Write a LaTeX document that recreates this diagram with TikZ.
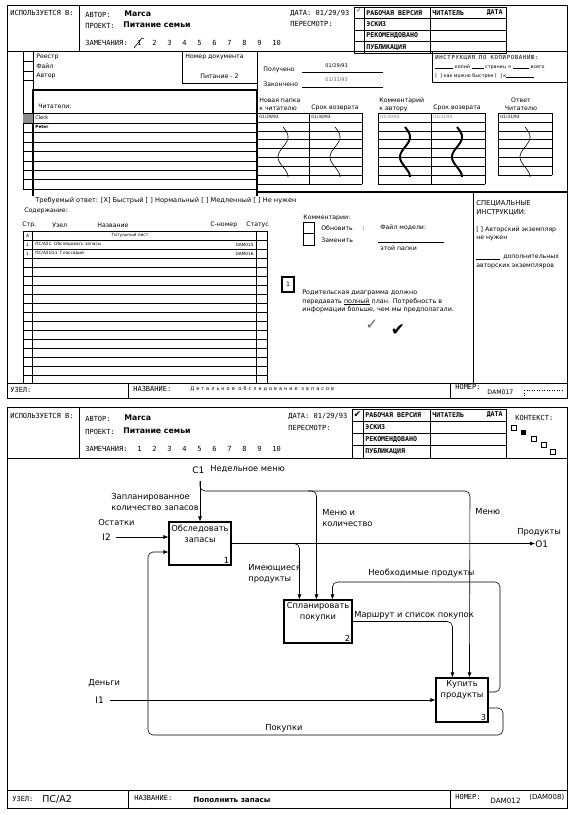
\documentclass[tikz,border=0pt]{standalone}
\usepackage{fontspec}
\setmainfont{DejaVu Sans}
\newfontfamily\monof{DejaVu Sans Mono}
\usetikzlibrary{arrows.meta,calc}
\tikzset{
 lab/.style={font=\monof\fontsize{7}{8}\selectfont, inner sep=0pt, anchor=west},
 labb/.style={font=\monof\bfseries\fontsize{6.6}{8}\selectfont, inner sep=0pt, anchor=west},
 hv/.style={font=\bfseries\fontsize{7.8}{9}\selectfont, inner sep=0pt, anchor=west},
 sm/.style={font=\fontsize{6.2}{8}\selectfont, inner sep=0pt, anchor=west, align=left},
 tn/.style={font=\fontsize{4.3}{5}\selectfont, inner sep=0pt, anchor=west},
 dl/.style={font=\fontsize{8.3}{11}\selectfont, inner sep=0pt, anchor=west, align=left},
 btxt/.style={font=\fontsize{8.3}{11}\selectfont, inner sep=0pt, anchor=north, align=center},
 fbox/.style={draw, line width=1.1pt, minimum height=43pt, inner sep=0pt},
 arr/.style={-{Latex[length=5pt,width=4pt]}, line width=0.6pt, rounded corners=5pt},
 fr/.style={line width=0.8pt},
 thk/.style={line width=1.6pt},
 thn/.style={line width=0.5pt},
}
\newcommand\squig[2]{\draw[#2] plot[domain=0:50,samples=60,smooth] ({#1+5*sin(\x*9)},{127+\x});}
\begin{document}
\begin{tikzpicture}[x=1pt,y=-1pt,line width=0.7pt]
\useasboundingbox[fill=white] (0,0) rectangle (579,815);

% ================= PAGE 1 =================
\draw[fr] (7.5,5) rectangle (567,398);
\draw[fr] (7.5,51) -- (567,51);
\draw[fr] (79,5) -- (79,51);
\node[lab] (p1use) at (10,13) {ИСПОЛЬЗУЕТСЯ В:};
\node[lab] (p1aut) at (85,15) {АВТОР:};
\node[hv] (p1autv) at (124,14) {Marca};
\node[lab] (p1prj) at (85,26) {ПРОЕКТ:};
\node[hv] (p1prjv) at (123,25) {Питание семьи};
\node[lab] (p1rem) at (85,43) {ЗАМЕЧАНИЯ:};
\foreach \i [count=\k from 0] in {1,...,10} \node[lab] (p1n\i) at (137+15*\k,43) {\i};
\draw[line width=0.6pt] (134,48) -- (142,38) -- (144,39);
\node[lab] (p1date) at (290,13) {ДАТА: 01/29/93};
\node[lab] (p1rev) at (290,24) {ПЕРЕСМОТР:};
% status box
\draw[line width=1pt] (354,7) rectangle (506,53);
\draw[line width=1pt] (364,7) -- (364,53) (430,7) -- (430,53);
\foreach \yy in {18.5,30,41.5} \draw[line width=1pt] (354,\yy) -- (506,\yy);
\node[labb] (p1s1) at (366,12.75) {РАБОЧАЯ ВЕРСИЯ};
\node[labb] (p1s2) at (366,24.25) {ЭСКИЗ};
\node[labb] (p1s3) at (366,35.75) {РЕКОМЕНДОВАНО};
\node[labb] (p1s4) at (366,47.25) {ПУБЛИКАЦИЯ};
\node[labb] (p1s5) at (432,12.75) {ЧИТАТЕЛЬ};
\node[labb, anchor=east] (p1s6) at (503,12.75) {ДАТА};
\node[font=\fontsize{6}{6}\selectfont, inner sep=0pt] (p1chk) at (359,11) {✓};

% left checkboxes
\draw[fr] (23,51) -- (23,189);
\draw[fr] (33,51) -- (33,90);
\foreach \yy in {61,71,80} \draw[fr] (23,\yy) -- (33,\yy);
\node[sm] (p1reg) at (36,57) {Реестр};
\node[sm] (p1fil) at (36,66) {Файл};
\node[sm] (p1avt) at (36,76) {Автор};
% document number box
\draw[fr] (182,51) -- (182,83) -- (257,83);
\draw[fr] (257,51) -- (257,90);
\node[sm] (p1docn) at (185,57) {Номер документа};
\node[sm] (p1docv) at (200,76) {Питание - 2};
% received / finished
\node[sm] (p1rcv) at (263,70) {Получено};
\node[sm] (p1fin) at (263,84) {Закончено};
\node[tn, font=\fontsize{5}{6}\selectfont] (p1d1) at (325,66) {01/29/93};
\node[tn, font=\fontsize{5}{6}\selectfont, text=black!60] (p1d2) at (325,80) {01/31/93};
\draw[thn] (302,72) -- (383,72);
\draw[thn] (302,87) -- (383,87);
% copy instructions
\draw[fr] (432,51) -- (432,82) -- (567,82);
\node[font=\monof\fontsize{5.6}{6}\selectfont, inner sep=0pt, anchor=west] (p1ci1) at (435,58) {\addfontfeature{LetterSpace=12}ИНСТРУКЦИЯ ПО КОПИРОВАНИЮ:};
\node[tn, font=\fontsize{4.8}{6}\selectfont] (p1ci2) at (435,67) {\rule{18pt}{0.3pt} копий \rule{12pt}{0.3pt} страниц = \rule{16pt}{0.3pt} всего};
\node[tn, font=\fontsize{4.8}{6}\selectfont] (p1ci3) at (435,76) {[\ \ ] как можно быстрее [\ \ ] к\rule{28pt}{0.3pt}};

% readers box
\draw[thk] (33,196) -- (33,90) -- (257,90) -- (257,196);
\node[sm] (p1rd) at (38,106) {Читатели:};
\fill[black!45] (23,113) rectangle (33,123);
\foreach \yy in {113,123,132,142,151,161,170,179,189} \draw[fr] (23,\yy) -- (257,\yy);
\node[tn, font=\fontsize{5}{6}\selectfont] (p1clerk) at (35,118) {Clerk};
\node[tn, font=\bfseries\fontsize{4.3}{5}\selectfont] (p1peter) at (35,126.5) {Peter};

% right tables
\node[sm] (p1t1h) at (259,104.5) {Новая папка\\к читателю};
\node[sm] (p1t1r) at (311,108) {Срок возврата};
\node[sm] (p1t2h) at (379,104.5) {Комментарий\\к автору};
\node[sm] (p1t2r) at (433,108) {Срок возврата};
\node[sm, align=center, anchor=center] (p1t3h) at (521,104.5) {Ответ\\Читателю};
\foreach \k in {0,...,8} \draw[thn] (257,113+8.9*\k) -- (362,113+8.9*\k);
\foreach \k in {0,...,8} \draw[thn] (378,113+8.9*\k) -- (485,113+8.9*\k);
\foreach \k in {0,...,7} \draw[thn] (498,113+8.9*\k) -- (552,113+8.9*\k);
\draw[thn] (309,113) -- (309,184.2) (362,113) -- (362,184.2);
\draw[thn] (378,113) -- (378,184.2) (431,113) -- (431,184.2) (485,113) -- (485,184.2);
\draw[thn] (498,113) -- (498,175.3) (552,113) -- (552,175.3);
\node[tn] (p1dd1) at (259,117.5) {01/29/93};
\node[tn] (p1dd2) at (311,117.5) {01/30/93};
\node[tn, text=black!50] (p1dd3) at (380,117.5) {01/30/93};
\node[tn, text=black!50] (p1dd4) at (433,117.5) {01/31/93};
\node[tn] (p1dd5) at (500,117.5) {01/31/93};
\squig{283}{line width=0.6pt}
\squig{335}{line width=0.6pt}
\squig{405}{line width=2pt}
\squig{457}{line width=2pt}
\squig{525}{line width=0.6pt}
\draw[thk] (257,192) -- (567,192);
\draw[fr] (473,192) -- (473,383);

% required answer
\node[sm, font=\fontsize{6.6}{8}\selectfont] (p1req) at (35,201) {Требуемый ответ: [X] Быстрый [ ] Нормальный [ ] Медленный [ ] Не нужен};
% contents
\node[sm] (p1cnt) at (24,211) {Содержание:};
\node[sm] (p1c1) at (22,225) {Стр.};
\node[sm] (p1c2) at (52,225) {Узел};
\node[sm] (p1c3) at (97,225) {Название};
\node[sm] (p1c4) at (210,225) {С-номер};
\node[sm] (p1c5) at (246,225) {Статус};
\draw[fr] (23,231) rectangle (267,383);
\draw[fr] (32,231) -- (32,383) (256,231) -- (256,383);
\foreach \k in {1,...,16} \draw[fr] (23,231+9*\k) -- (267,231+9*\k);
\node[tn, anchor=center] (p1r0) at (130,235.5) {Титульный лист};
\node[tn] (p1r1) at (35,244.5) {ПС/А21\ \ Обследовать запасы};
\node[tn, anchor=east] (p1r1b) at (254,244.5) {DAM015};
\node[tn] (p1r2) at (35,253.5) {ПС/А21G1\ \ Глоссарий};
\node[tn, anchor=east] (p1r2b) at (254,253.5) {DAM016};
\node[tn, anchor=center] (p1l0) at (27.5,235.5) {A};
\node[tn, anchor=center] (p1l1) at (27.5,244.5) {1};
\node[tn, anchor=center] (p1l2) at (27.5,253.5) {1};

% comments
\node[sm] (p1cm) at (303,218) {Комментарии:};
\draw[fr] (303,222) rectangle (314,233);
\draw[fr] (303,233) rectangle (314,245);
\node[sm] (p1upd) at (321,228) {Обновить};
\node[sm] (p1col) at (362,229) {:};
\node[sm] (p1rep) at (321,240) {Заменить};
\node[sm] (p1mf) at (380,228) {Файл модели:};
\draw[thn] (378,242) -- (444,242);
\node[sm] (p1tp) at (380,248) {этой папки};
\draw[line width=1.2pt] (282,277) rectangle (294,292);
\node[sm, anchor=center] (p1one) at (288,284.5) {1};
\node[sm, font=\fontsize{6.4}{8.8}\selectfont] (p1note) at (302,301.5) {Родительская диаграмма должно\\передавать \underline{полный} план. Потребность в\\информации больше, чем мы предполагали.};
\node[inner sep=0pt, font=\fontsize{15}{15}\selectfont, text=black!60] (p1ck1) at (372,325) {✓};
\node[inner sep=0pt, font=\fontsize{17}{17}\selectfont] (p1ck2) at (398,330) {✔};
% special instructions
\node[sm, font=\fontsize{6.8}{9}\selectfont] (p1sp) at (476,208) {СПЕЦИАЛЬНЫЕ\\ИНСТРУКЦИИ:};
\node[sm] (p1sp1) at (476,230) {[ ] Авторский экземпляр};
\node[sm] (p1sp2) at (476,238.5) {не нужен};
\draw[thn] (476,259) -- (500,259);
\node[sm] (p1sp3) at (503,257) {дополнительных};
\node[sm] (p1sp4) at (476,266) {авторских экземпляров};

% footer page 1
\draw[fr] (7.5,383) -- (567,383);
\draw[fr] (128,383) -- (128,398) (450,383) -- (450,398);
\node[lab] (p1uz) at (10,390) {УЗЕЛ:};
\node[lab] (p1nm) at (133,389) {НАЗВАНИЕ:};
\node[tn, font=\fontsize{5}{6}\selectfont] (p1nmv) at (190,389) {\addfontfeature{LetterSpace=40}Детальное обследование запасов};
\node[lab] (p1nr) at (455,387) {НОМЕР:};
\node[sm] (p1nrv) at (487,392) {DAM017};
\draw[dotted, thn] (524,390) -- (563,390) (524,390) -- (524,398);

% ================= PAGE 2 =================
\draw[fr] (7.5,407) rectangle (567,808);
\draw[fr] (7.5,458) -- (567,458);
\draw[fr] (79,407) -- (79,458);
\node[lab] (p2use) at (10,416) {ИСПОЛЬЗУЕТСЯ В:};
\node[lab] (p2aut) at (85,419) {АВТОР:};
\node[hv] (p2autv) at (124,418) {Marca};
\node[lab] (p2prj) at (85,432) {ПРОЕКТ:};
\node[hv] (p2prjv) at (123,431) {Питание семьи};
\node[lab] (p2rem) at (85,449) {ЗАМЕЧАНИЯ:};
\foreach \i [count=\k from 0] in {1,...,10} \node[lab] (p2n\i) at (137+15*\k,449) {\i};
\node[lab] (p2date) at (288,416) {ДАТА: 01/29/93};
\node[lab] (p2rev) at (288,428) {ПЕРЕСМОТР:};
\draw[line width=1pt] (352,409) rectangle (506,458);
\draw[line width=1pt] (363,409) -- (363,458) (430,409) -- (430,458);
\foreach \yy in {421.25,433.5,445.75} \draw[line width=1pt] (352,\yy) -- (506,\yy);
\node[labb] (p2s1) at (365,415.1) {РАБОЧАЯ ВЕРСИЯ};
\node[labb] (p2s2) at (365,427.4) {ЭСКИЗ};
\node[labb] (p2s3) at (365,439.6) {РЕКОМЕНДОВАНО};
\node[labb] (p2s4) at (365,451.9) {ПУБЛИКАЦИЯ};
\node[labb] (p2s5) at (432,415.1) {ЧИТАТЕЛЬ};
\node[labb, anchor=east] (p2s6) at (503,415.1) {ДАТА};
\node[font=\fontsize{9}{9}\selectfont, inner sep=0pt] (p2chk) at (357.5,414.5) {✔};
\node[lab] (p2ctx) at (515,418) {КОНТЕКСТ:};
\draw[thn] (511,425) rectangle (516,430);
\fill (521,430) rectangle (526,435);
\draw[thn] (531,436) rectangle (536,441);
\draw[thn] (541,442) rectangle (546,447);
\draw[thn] (550,449) rectangle (555,454);

% footer page 2
\draw[fr] (7.5,790) -- (567,790);
\draw[fr] (128,790) -- (128,808) (450,790) -- (450,808);
\node[lab] (p2uz) at (12,799) {УЗЕЛ:};
\node[inner sep=0pt, anchor=west, font=\fontsize{9.5}{10}\selectfont] (p2uzv) at (42,799.5) {ПС/А2};
\node[lab] (p2nm) at (134,798) {НАЗВАНИЕ:};
\node[hv, font=\bfseries\fontsize{7.2}{9}\selectfont] (p2nmv) at (193,799.5) {Пополнить запасы};
\node[lab] (p2nr) at (455,797) {НОМЕР:};
\node[sm, font=\fontsize{7.2}{9}\selectfont] (p2nrv) at (490,800.5) {DAM012};
\node[sm, font=\fontsize{7}{9}\selectfont] (p2nro) at (529,797.5) {(DAM008)};

% IDEF0 diagram
\node[fbox, minimum width=62pt] (b1) at (200,543.5) {};
\node[btxt] (b1t) at ([yshift=-3pt]b1.north) {Обследовать\\запасы};
\node[dl, anchor=south east] (b1n) at ([shift={(-2pt,2pt)}]b1.south east) {1};
\node[fbox, minimum width=68pt] (b2) at (318,621.5) {};
\node[btxt] (b2t) at ([yshift=-3pt]b2.north) {Спланировать\\покупки};
\node[dl, anchor=south east] (b2n) at ([shift={(-2pt,2pt)}]b2.south east) {2};
\node[fbox, minimum width=52pt, minimum height=44pt] (b3) at (462,700) {};
\node[btxt] (b3t) at ([yshift=-3pt]b3.north) {Купить\\продукты};
\node[dl, anchor=south east] (b3n) at ([shift={(-2pt,2pt)}]b3.south east) {3};

\node[dl, font=\fontsize{9}{11}\selectfont] (c1) at (192,470) {C1};
\coordinate (c1s) at (200,481);
\node[dl, font=\fontsize{9}{11}\selectfont] (i2) at (102,537) {I2};
\node[dl, font=\fontsize{9}{11}\selectfont] (i1) at (95,700) {I1};
\node[dl, font=\fontsize{9}{11}\selectfont] (o1) at (535,544) {O1};

\draw[arr] (c1s) -- (b1.north);
\draw[arr] (c1s) |- (470,491) -- ([xshift=34pt]b3.north west);
\draw[arr] (308,491) -| ([xshift=33pt]b2.north west);
\draw[arr] (b1.east) -- (b1.east -| o1.west);
\draw[arr] ($(b1.east)+(58,0)$) -| ([xshift=16pt]b2.north west);
\draw[arr] (b2.east) -| ([xshift=17pt]b3.north west);
\draw[arr] ([yshift=8pt]b3.east) -| (500,582) -| ([xshift=49pt]b2.north west);
\draw[arr] ([yshift=-8pt]b3.east) -| (503,735) -| (148,552) -- ([yshift=-8.5pt]b1.west);
\draw[arr] ([xshift=5pt]i2.east) -- (i2.east -| b1.west);
\draw[arr] ([xshift=6pt]i1.east) -- (i1.east -| b3.west);

\node[dl] (lc1) at (210,469) {Недельное меню};
\node[dl] (lzap) at (111,501.5) {Запланированное\\количество запасов};
\node[dl] (lost) at (98,522) {Остатки};
\node[dl] (lmk) at (322,518) {Меню и\\количество};
\node[dl] (lmen) at (475,512) {Меню};
\node[dl] (lprd) at (517,532) {Продукты};
\node[dl] (limp) at (248,573.5) {Имеющиеся\\продукты};
\node[dl] (lneo) at (368,573) {Необходимые продукты};
\node[dl] (lmar) at (354,615) {Маршрут и список покупок};
\node[dl] (lden) at (88,683) {Деньги};
\node[dl] (lpok) at (265,728) {Покупки};
\end{tikzpicture}
\end{document}
